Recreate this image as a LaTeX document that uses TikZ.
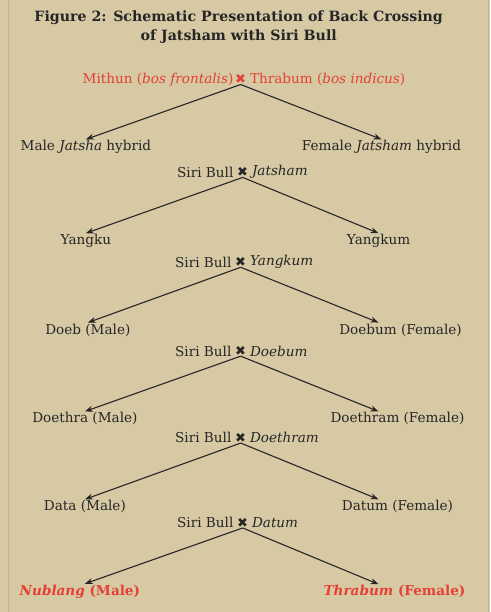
\documentclass[tikz,border=0pt]{standalone}
\usepackage{fontspec}
\setmainfont{DejaVu Serif}
\newfontfamily\symfont{DejaVu Sans}
\usetikzlibrary{arrows.meta,positioning}
\definecolor{paper}{RGB}{214,201,164}
\definecolor{edgeline}{RGB}{194,182,144}
\definecolor{crossred}{RGB}{230,64,52}
\definecolor{ink}{RGB}{38,38,38}

\begin{document}
\begin{tikzpicture}[x=1pt, y=-1pt,
    every node/.style={font=\fontsize{13.6}{16}\selectfont, text=ink, inner sep=1pt},
    title/.style={font=\fontsize{14.2}{17}\selectfont\bfseries},
    cross/.style={font=\symfont\fontsize{13}{16}\selectfont, inner ysep=0.5pt, inner xsep=2.5pt},
    arr/.style={-{Stealth[length=8pt,width=6pt]}, line width=1.1pt, draw=ink}]
    % Page
    \fill[paper] (0,0) rectangle (491,612);
    \draw[edgeline, line width=0.8pt] (8,0) -- (8,612);
    \draw[edgeline, line width=0.8pt] (489,0) -- (489,612);
    \useasboundingbox (0,0) rectangle (491,612);

    % Title
    \node[title] (t1) at (239,17) {Figure 2: Schematic Presentation of Back Crossing};
    \node[title] (t2) at (239,36) {of Jatsham with Siri Bull};

    % Parents
    \node[cross, text=crossred, inner xsep=0.5pt] (x0) at (241,79) {✖};
    \node[anchor=east, text=crossred] (mithun) at (x0.west) {Mithun (\textit{bos frontalis})};
    \node[anchor=west, text=crossred, inner xsep=3pt] (thrabum) at (x0.east) {Thrabum (\textit{bos indicus})};

    % First cross
    \node (male1) at (86,147) {Male \textit{Jatsha} hybrid};
    \node (fem1) at (382,147) {Female \textit{Jatsham} hybrid};
    \node[cross] (x1) at (243,172) {✖};
    \node[anchor=east] (bull1) at (x1.west) {Siri Bull};
    \node[anchor=west] (dam1) at (x1.east) {\textit{Jatsham}};

    % Second cross
    \node (male2) at (86,241) {Yangku};
    \node (fem2) at (379,241) {Yangkum};
    \node[cross] (x2) at (241,262) {✖};
    \node[anchor=east] (bull2) at (x2.west) {Siri Bull};
    \node[anchor=west] (dam2) at (x2.east) {\textit{Yangkum}};

    % Third cross
    \node (male3) at (88,330) {Doeb (Male)};
    \node (fem3) at (401,330) {Doebum (Female)};
    \node[cross] (x3) at (241,351) {✖};
    \node[anchor=east] (bull3) at (x3.west) {Siri Bull};
    \node[anchor=west] (dam3) at (x3.east) {\textit{Doebum}};

    % Fourth cross
    \node (male4) at (85,419) {Doethra (Male)};
    \node (fem4) at (398,419) {Doethram (Female)};
    \node[cross] (x4) at (241,438) {✖};
    \node[anchor=east] (bull4) at (x4.west) {Siri Bull};
    \node[anchor=west] (dam4) at (x4.east) {\textit{Doethram}};

    % Fifth cross
    \node (male5) at (85,507) {Data (Male)};
    \node (fem5) at (398,507) {Datum (Female)};
    \node[cross] (x5) at (243,523) {✖};
    \node[anchor=east] (bull5) at (x5.west) {Siri Bull};
    \node[anchor=west] (dam5) at (x5.east) {\textit{Datum}};

    % Final offspring
    \node[text=crossred, font=\fontsize{13.6}{16}\selectfont\bfseries] (male6) at (80,592) {\textit{Nublang} (Male)};
    \node[text=crossred, font=\fontsize{13.6}{16}\selectfont\bfseries] (fem6) at (395,592) {\textit{Thrabum} (Female)};

    % Arrows
    \draw[arr] (x0.south) -- (male1.north);
    \draw[arr] (x0.south) -- (fem1.north);
    \draw[arr] (x1.south) -- (male2.north);
    \draw[arr] (x1.south) -- (fem2.north);
    \draw[arr] (x2.south) -- (male3.north);
    \draw[arr] (x2.south) -- (fem3.north -| fem2.north);
    \draw[arr] (x3.south) -- (male4.north);
    \draw[arr] (x3.south) -- (fem4.north -| fem2.north);
    \draw[arr] (x4.south) -- (male5.north);
    \draw[arr] (x4.south) -- (fem5.north -| fem2.north);
    \draw[arr] (x5.south) -- (male6.north -| male5.north);
    \draw[arr] (x5.south) -- (fem6.north -| fem2.north);
\end{tikzpicture}
\end{document}
